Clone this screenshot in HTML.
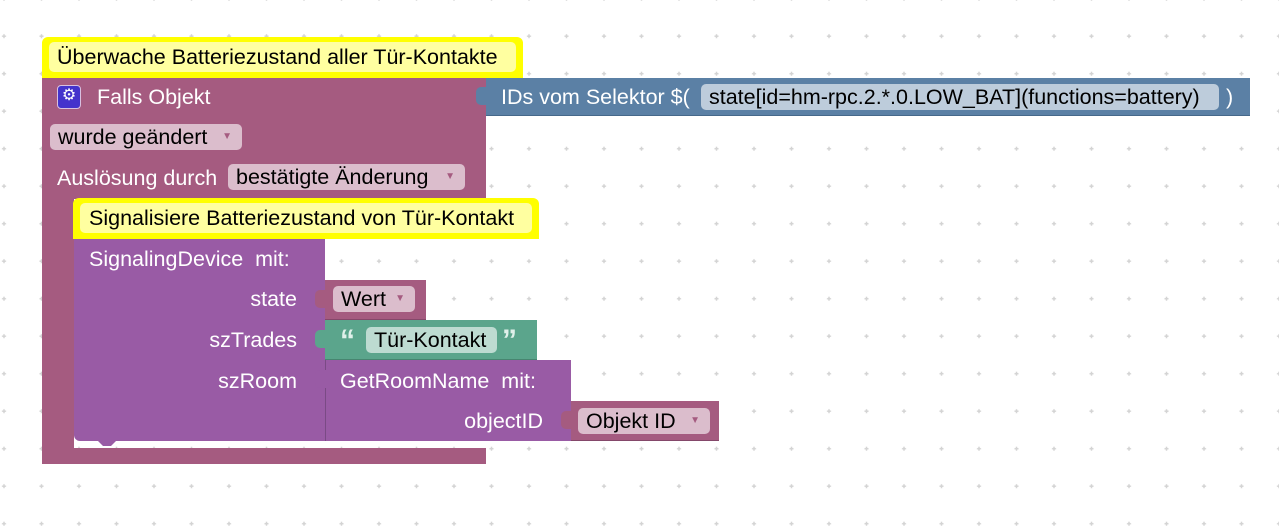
<!DOCTYPE html>
<html><head><meta charset="utf-8"><style>
body{margin:0;width:1279px;height:526px;overflow:hidden;background:#fff;font-family:"Liberation Sans",Arial,sans-serif;}
.a{position:absolute;box-sizing:border-box;}
.t{position:absolute;font-size:21.5px;line-height:24px;color:#fff;white-space:nowrap;}
.r{text-align:right;}
.pill{position:absolute;box-sizing:border-box;border-radius:5px;font-size:21.5px;line-height:26px;color:#000;white-space:nowrap;padding-left:8px;}
.arr{font-size:10px;color:#a55b80;vertical-align:4px;position:absolute;right:10px;}
</style></head><body>
<svg class="a" style="left:0;top:0" width="1279" height="526">
<defs><pattern id="p" patternUnits="userSpaceOnUse" x="-14.75" y="17.45" width="37.5" height="37.5">
<rect x="18" y="16.75" width="1.5" height="4" fill="#d4d4d4"/><rect x="16.75" y="18" width="4" height="1.5" fill="#d4d4d4"/></pattern></defs>
<rect width="1279" height="526" fill="url(#p)"/>
</svg>

<div class="a" style="left:42px;top:77px;width:444px;height:122px;background:#a55b80;"></div>
<div class="a" style="left:42px;top:190px;width:32px;height:274px;background:#a55b80;border-bottom-left-radius:8px;"></div>
<div class="a" style="left:42px;top:448px;width:444px;height:16px;background:#a55b80;"></div>

<div class="a" style="left:42px;top:37px;width:481px;height:41px;background:#ffff00;border-radius:6px 6px 0 0;"></div>
<div class="a" style="left:49px;top:42px;width:467px;height:30px;background:#ffffa0;border-radius:5px;"></div>
<div class="t" style="left:57px;top:45px;color:#000;">Überwache Batteriezustand aller Tür-Kontakte</div>

<div class="a" style="left:57px;top:85px;width:24px;height:24px;background:#4433cc;border:1.5px solid #d8c0e0;border-radius:4px;color:#fff;font-size:16px;line-height:20px;text-align:center;">⚙</div>
<div class="t" style="left:97px;top:85px;">Falls Objekt</div>
<div class="pill" style="left:50px;top:124px;width:192px;background:#dbbdcc;">wurde geändert<span class="arr">▼</span></div>
<div class="t" style="left:57px;top:166px;">Auslösung durch</div>
<div class="pill" style="left:228px;top:164px;width:237px;background:#dbbdcc;">bestätigte Änderung<span class="arr">▼</span></div>

<div class="a" style="left:486px;top:78px;width:764px;height:38px;background:#5b80a5;border-bottom:1px solid #46688a;"></div>
<div class="a" style="left:476px;top:87px;width:11px;height:18px;background:#5b80a5;border-radius:5px 0 0 5px;"></div>
<div class="t" style="left:501px;top:85px;">IDs vom Selektor $(</div>
<div class="pill" style="left:701px;top:84px;width:518px;background:#bdccdb;">state[id=hm-rpc.2.*.0.LOW_BAT](functions=battery)</div>
<div class="t" style="left:1226px;top:85px;">)</div>

<div class="a" style="left:74px;top:238px;width:251px;height:203px;background:#995ba5;border-radius:0 0 0 6px;"></div>
<div class="a" style="left:325px;top:360px;width:246px;height:81px;background:#995ba5;border-left:1px solid #7a4a85;"></div>
<div class="a" style="left:97px;top:440px;width:20px;height:6px;background:#995ba5;clip-path:polygon(0 0,100% 0,70% 100%,30% 100%);"></div>

<div class="a" style="left:73px;top:198px;width:466px;height:41px;background:#ffff00;border-radius:6px 6px 0 0;"></div>
<div class="a" style="left:80px;top:203px;width:452px;height:30px;background:#ffffa0;border-radius:5px;"></div>
<div class="t" style="left:89px;top:206px;color:#000;">Signalisiere Batteriezustand von Tür-Kontakt</div>

<div class="t" style="left:89px;top:247px;">SignalingDevice&nbsp; mit:</div>
<div class="t r" style="left:150px;width:147px;top:287px;">state</div>
<div class="t r" style="left:150px;width:147px;top:328px;">szTrades</div>
<div class="t r" style="left:150px;width:147px;top:369px;">szRoom</div>

<div class="a" style="left:325px;top:280px;width:101px;height:40px;background:#a55b80;border-bottom:1px solid #84486a;"></div>
<div class="a" style="left:315px;top:290px;width:11px;height:18px;background:#a55b80;border-radius:5px 0 0 5px;"></div>
<div class="pill" style="left:333px;top:286px;width:82px;background:#dbbdcc;">Wert<span class="arr">▼</span></div>

<div class="a" style="left:325px;top:320px;width:212px;height:40px;background:#5ba58c;border-bottom:1px solid #478570;"></div>
<div class="a" style="left:315px;top:330px;width:11px;height:18px;background:#5ba58c;border-radius:5px 0 0 5px;"></div>
<div class="t" style="left:340px;top:326px;font-weight:bold;font-size:30px;line-height:30px;color:#e0f0ea;">“</div>
<div class="pill" style="left:366px;top:327px;width:131px;background:#bddbd1;">Tür-Kontakt</div>
<div class="t" style="left:502px;top:326px;font-weight:bold;font-size:30px;line-height:30px;color:#e0f0ea;">”</div>

<div class="a" style="left:315px;top:370px;width:11px;height:18px;background:#995ba5;border-radius:5px 0 0 5px;"></div>
<div class="t" style="left:340px;top:369px;">GetRoomName&nbsp; mit:</div>
<div class="t r" style="left:400px;width:143px;top:409px;">objectID</div>

<div class="a" style="left:571px;top:401px;width:148px;height:40px;background:#a55b80;border-bottom:1px solid #84486a;"></div>
<div class="a" style="left:561px;top:411px;width:11px;height:18px;background:#a55b80;border-radius:5px 0 0 5px;"></div>
<div class="pill" style="left:578px;top:408px;width:132px;background:#dbbdcc;">Objekt ID<span class="arr">▼</span></div>
</body></html>
